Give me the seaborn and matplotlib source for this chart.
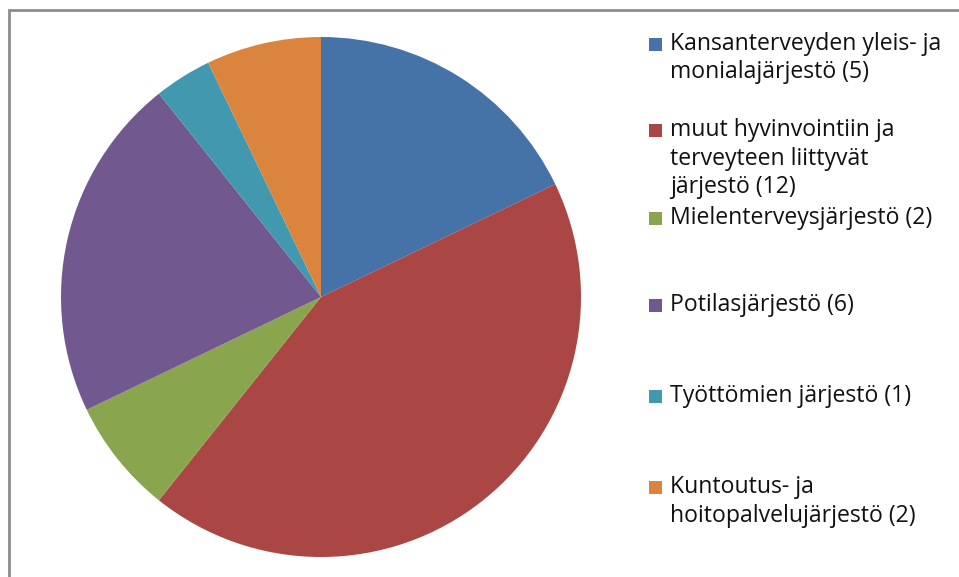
import matplotlib.pyplot as plt
import matplotlib.patches as mpatches
import seaborn as sns

labels = [
    "Kansanterveyden yleis- ja\nmonialajärjestö (5)",
    "muut hyvinvointiin ja\nterveyteen liittyvät\njärjestö (12)",
    "Mielenterveysjärjestö (2)",
    "Potilasjärjestö (6)",
    "Työttömien järjestö (1)",
    "Kuntoutus- ja\nhoitopalvelujärjestö (2)",
]
counts = [5, 12, 2, 6, 1, 2]
colors = ["#4572A7", "#AA4643", "#89A54E", "#71588F", "#4198AF", "#DB843D"]

sns.set_theme(style="white")
plt.rcParams["font.family"] = ["Open Sans", "DejaVu Sans"]

W, H = 959, 577
fig = plt.figure(figsize=(W / 100, H / 100), dpi=100)
fig.patch.set_facecolor("white")

# chart frame (only top/left visible in the reference)
fig.add_artist(mpatches.Rectangle((9 / W, -0.1), 1.2, (H - 10) / H + 0.1,
                                  transform=fig.transFigure, fill=False,
                                  edgecolor="#8c8c8c", linewidth=2))

ax = fig.add_axes([(321 - 260) / W, (H - 557) / H, 520 / W, 520 / H])
ax.pie(counts, colors=colors, startangle=90, counterclock=False,
       wedgeprops=dict(linewidth=0))
ax.set_xlim(-1, 1)
ax.set_ylim(-1, 1)
ax.set_aspect("equal")
ax.axis("off")

# legend drawn by hand to match spacing
marker_y = [44, 130, 218, 305, 396, 487]
for lab, col, y in zip(labels, colors, marker_y):
    fig.add_artist(mpatches.Rectangle((649 / W, (H - y - 7) / H), 13 / W, 13 / H,
                                      transform=fig.transFigure,
                                      facecolor=col, edgecolor="none"))
    fig.text(670 / W, (H - y + 12) / H, lab, fontsize=16.6, va="top", ha="left",
             color="#111111", linespacing=1.25)

fig.savefig("out.png", dpi=100, facecolor="white")
